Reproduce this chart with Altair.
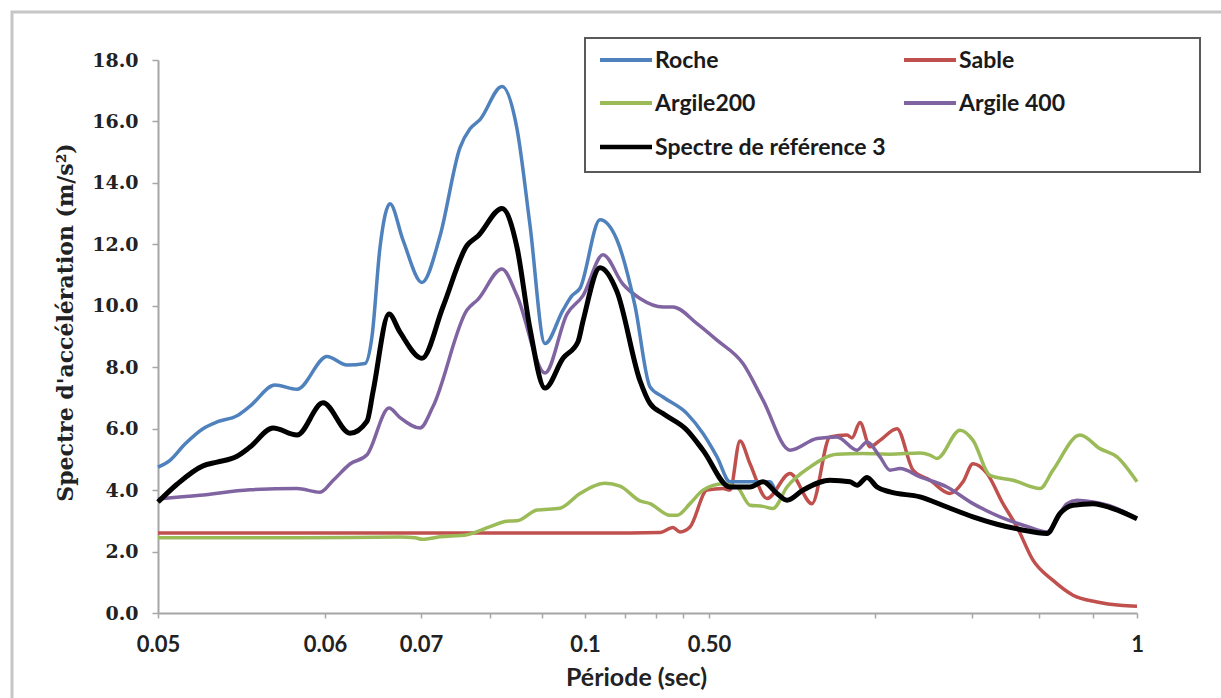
import altair as alt
import pandas as pd

# x positions are in "axis units" of the (irregular) period axis: 0 -> 0.05 s ... 979 -> 1 s
tick_pos = [0, 167, 263, 332, 384, 427, 467, 498, 525, 551, 717, 814, 881, 935, 979]
tick_lab = {0: "0.05", 167: "0.06", 263: "0.07", 427: "0.1", 551: "0.50", 979: "1"}

series_names = ["Roche", "Sable", "Argile200", "Argile 400", "Spectre de référence 3"]
series_colors = ["#4F81BD", "#C0504D", "#9BBB59", "#8064A2", "#000000"]

roche_x = [0, 12, 27, 45, 59, 79, 92, 117, 139, 169, 189, 207, 214, 222, 232, 245, 264, 282,
           302, 312, 322, 344, 359, 372, 387, 405, 414, 422, 442, 459, 477, 492, 505, 529,
           545, 559, 572, 589, 612, 619, 629, 645, 672, 692, 699, 709, 719, 732, 762, 789,
           815, 839, 862, 889, 902, 915, 935, 955, 979]
roche_y = [4.75, 4.97, 5.5, 6.0, 6.22, 6.42, 6.73, 7.42, 7.28, 8.35, 8.07, 8.12, 9.0, 11.9,
           13.32, 12.14, 10.76, 12.27, 15.15, 15.76, 16.06, 17.14, 15.76, 12.62, 8.77, 9.86,
           10.33, 10.57, 12.8, 12.14, 10.0, 7.36, 7.03, 6.49, 5.84, 5.08, 4.27, 4.27, 4.27,
           3.89, 3.67, 4.0, 4.32, 4.27, 4.16, 4.41, 4.1, 3.94, 3.78, 3.45, 3.13, 2.89, 2.72,
           2.59, 3.24, 3.51, 3.56, 3.40, 3.07]

sable_x = [0, 200, 442, 502, 515, 522, 532, 549, 565, 572, 582, 592, 609, 632, 654, 672, 689,
           694, 702, 712, 722, 739, 755, 772, 792, 805, 815, 829, 845, 859, 875, 895, 915,
           939, 962, 979]
sable_y = [2.6, 2.6, 2.6, 2.62, 2.78, 2.64, 2.80, 4.0, 4.05, 4.0, 5.6, 4.86, 3.73, 4.54, 3.56,
           5.73, 5.79, 5.7, 6.2, 5.41, 5.62, 6.0, 4.65, 4.32, 3.89, 4.27, 4.86, 4.54, 3.56,
           2.80, 1.72, 1.06, 0.58, 0.36, 0.25, 0.22]

argile200_x = [0, 142, 242, 257, 264, 282, 309, 332, 349, 359, 379, 402, 422, 447, 462, 482,
               492, 512, 519, 532, 545, 565, 579, 592, 605, 615, 629, 652, 679, 705, 732, 762,
               772, 779, 802, 815, 832, 855, 882, 895, 922, 942, 959, 979]
argile200_y = [2.45, 2.45, 2.47, 2.45, 2.40, 2.48, 2.55, 2.81, 2.99, 3.0, 3.35, 3.41, 3.89,
               4.22, 4.13, 3.65, 3.56, 3.18, 3.18, 3.56, 4.0, 4.21, 4.1, 3.51, 3.47, 3.40,
               4.1, 4.75, 5.17, 5.19, 5.17, 5.21, 5.14, 5.03, 5.95, 5.62, 4.48, 4.32, 4.05,
               4.65, 5.79, 5.35, 5.08, 4.27]

argile400_x = [0, 42, 92, 139, 162, 175, 192, 209, 231, 242, 262, 275, 309, 320, 344, 359,
               387, 409, 425, 445, 465, 482, 505, 515, 539, 559, 585, 605, 632, 659, 679, 699,
               709, 722, 732, 742, 762, 789, 815, 842, 869, 889, 909, 919, 935, 955, 979]
argile400_y = [3.71, 3.83, 4.01, 4.05, 3.93, 4.31, 4.85, 5.15, 6.67, 6.36, 6.02, 6.72, 9.86,
               10.21, 11.2, 10.33, 7.81, 9.73, 10.33, 11.66, 10.7, 10.24, 9.96, 9.96, 9.42,
               8.88, 8.12, 6.93, 5.3, 5.68, 5.73, 5.3, 5.57, 5.08, 4.65, 4.70, 4.43, 4.10,
               3.56, 3.13, 2.82, 2.64, 3.56, 3.67, 3.61, 3.45, 3.07]

ref3_x = [0, 19, 45, 59, 79, 92, 115, 139, 165, 192, 209, 215, 231, 242, 264, 285, 309, 320,
          344, 359, 372, 387, 405, 420, 425, 442, 459, 482, 492, 505, 529, 545, 572, 592, 605,
          619, 629, 645, 672, 692, 699, 709, 719, 732, 762, 789, 815, 839, 862, 889, 902, 915,
          935, 955, 979]
ref3_y = [3.61, 4.19, 4.79, 4.91, 5.10, 5.4, 6.02, 5.79, 6.84, 5.85, 6.24, 7.2, 9.73, 9.14,
          8.29, 9.97, 11.96, 12.27, 13.17, 11.9, 9.25, 7.32, 8.29, 8.83, 9.5, 11.24, 10.46,
          7.56, 6.82, 6.49, 5.95, 5.3, 4.1, 4.1, 4.27, 3.89, 3.67, 4.0, 4.32, 4.27, 4.16,
          4.41, 4.1, 3.94, 3.78, 3.45, 3.13, 2.89, 2.72, 2.59, 3.24, 3.51, 3.56, 3.40, 3.07]

data = {
    "Roche": (roche_x, roche_y),
    "Sable": (sable_x, sable_y),
    "Argile200": (argile200_x, argile200_y),
    "Argile 400": (argile400_x, argile400_y),
    "Spectre de référence 3": (ref3_x, ref3_y),
}

frames = {name: pd.DataFrame({"x": xs, "y": ys, "serie": name}) for name, (xs, ys) in data.items()}

label_expr = " : ".join(f"datum.value == {k} ? '{v}'" for k, v in tick_lab.items()) + " : ''"

x_enc = alt.X("x:Q", scale=alt.Scale(domain=[0, 979], nice=False, zero=False),
              axis=alt.Axis(values=tick_pos, labelExpr=label_expr, title="Période (sec)",
                            grid=False, domainColor="#a6a6a6", domainWidth=2, tickColor="#a6a6a6",
                            tickWidth=1.5, tickSize=5, labelFont="Lato", labelFontSize=22,
                            labelFontWeight="bold", labelColor="#222", labelPadding=16,
                            labelFlush=False, labelOverlap=False,
                            titleFont="Lato", titleFontSize=25, titleFontWeight="bold",
                            titleColor="#222", titlePadding=10, titleX=478))
y_enc = alt.Y("y:Q", scale=alt.Scale(domain=[0, 18], nice=False),
              axis=alt.Axis(values=[0, 2, 4, 6, 8, 10, 12, 14, 16, 18], format=".1f",
                            title="Spectre d'accélération  (m/s²)", grid=False,
                            domainColor="#a6a6a6", domainWidth=2, tickColor="#a6a6a6",
                            tickWidth=1.5, tickSize=6, labelFont="DejaVu Serif", labelFontSize=19,
                            labelFontWeight="bold", labelColor="#222", labelPadding=14,
                            titleFont="DejaVu Serif", titleFontSize=22, titleFontWeight="bold",
                            titleColor="#222", titlePadding=14, titleY=262))
color_enc = alt.Color("serie:N", scale=alt.Scale(domain=series_names, range=series_colors),
                      legend=None)

draw_order = ["Sable", "Argile200", "Argile 400", "Roche", "Spectre de référence 3"]
layers = []
frame = alt.Chart(alt.Data(values=[{"a": 1}])).mark_rect(
    filled=False, stroke="#c6c6c6", strokeWidth=3
).encode(x=alt.value(-146), x2=alt.value(1075), y=alt.value(-48), y2=alt.value(660))
layers.append(frame)
for name in draw_order:
    sw = 5 if name == "Spectre de référence 3" else 3.5
    layers.append(
        alt.Chart(frames[name]).mark_line(interpolate="monotone", strokeWidth=sw)
        .encode(x=x_enc, y=y_enc, color=color_enc)
    )

# legend box (drawn by hand: 2 columns, 3 rows)
one = alt.Data(values=[{"a": 1}])
layers.append(
    alt.Chart(one).mark_rect(fill="white", stroke="#595959", strokeWidth=2)
    .encode(x=alt.value(427), x2=alt.value(1042), y=alt.value(-22), y2=alt.value(112))
)
col_x = [442, 746]
row_y = [0, 43, 87]
for i, (name, col) in enumerate(zip(series_names, series_colors)):
    cx = col_x[i % 2]
    cy = row_y[i // 2]
    layers.append(
        alt.Chart(one).mark_rule(stroke=col, strokeWidth=4.5 if col == "#000000" else 4)
        .encode(x=alt.value(cx), x2=alt.value(cx + 52), y=alt.value(cy), y2=alt.value(cy))
    )
    layers.append(
        alt.Chart(one).mark_text(text=name, font="Lato", fontSize=23, fontWeight="bold",
                                 color="#1a1a1a", align="left", baseline="middle")
        .encode(x=alt.value(cx + 55), y=alt.value(cy + 1))
    )

chart = alt.layer(*layers).properties(
    width=979, height=553,
    autosize=alt.AutoSizeParams(type="none"),
    padding={"left": 158, "top": 60, "right": 84, "bottom": 85},
    background="white",
).configure_view(stroke=None)

chart.save("out.html", embed_options={"renderer": "svg", "actions": False})
